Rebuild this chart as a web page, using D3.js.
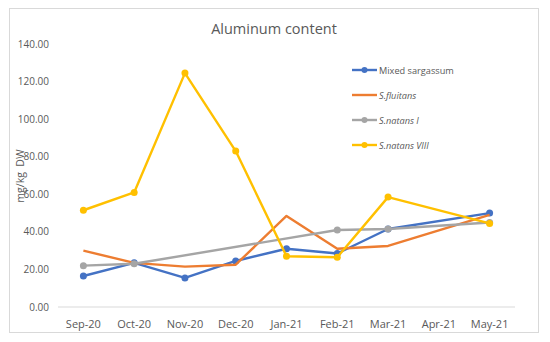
<!DOCTYPE html>
<html>
<head>
<meta charset="utf-8">
<script src="https://cdn.jsdelivr.net/npm/d3@7"></script>
<style>
  body { margin: 0; background: #fff; }
  text { font-family: "Open Sans", "Noto Sans", sans-serif; }
</style>
</head>
<body>
<svg id="chart" width="550" height="342"></svg>
<script>
const WIDTH = 550;
const HEIGHT = 342;

const months = ["Sep-20", "Oct-20", "Nov-20", "Dec-20", "Jan-21", "Feb-21", "Mar-21", "Apr-21", "May-21"];
const yTicks = [0, 20, 40, 60, 80, 100, 120, 140];

// null = no measurement, line connects over the gap
const mixedSargassum = [16.5, 23.5, 15.5, 24.5, 31, 28.5, 41.5, null, 50];
const sFluitans = [30, 23.5, 21.5, 22.5, 48.5, 31, 32.5, null, 49];
const sNatansI = [22, 23, null, null, null, 41, 41.5, null, 45];
const sNatansVIII = [51.5, 61, 124.5, 83, 27, 26.5, 58.5, null, 44.5];

const seriesNames = ["Mixed sargassum", "S.fluitans", "S.natans I", "S.natans VIII"];
const seriesValues = [mixedSargassum, sFluitans, sNatansI, sNatansVIII];
const seriesColors = ["#4472C4", "#ED7D31", "#A5A5A5", "#FFC000"];
const seriesMarkers = [true, false, true, true];
const seriesItalic = [false, true, true, true];

const svg = d3.select("#chart");

// outer chart border
svg.append("rect")
  .attr("x", 9.5).attr("y", 8.5)
  .attr("width", 529).attr("height", 324)
  .attr("fill", "#fff")
  .attr("stroke", "#d9d9d9");

const x = d3.scaleBand().domain(months).range([58, 515]);
const y = d3.scaleLinear().domain([0, 140]).range([307, 44]);

// x axis line
svg.append("line")
  .attr("x1", 58).attr("x2", 515)
  .attr("y1", y(0)).attr("y2", y(0))
  .attr("stroke", "#d9d9d9");

svg.append("g")
  .selectAll("text")
  .data(yTicks)
  .enter()
  .append("text")
  .attr("x", 49)
  .attr("y", (d) => y(d) + 3.5)
  .attr("text-anchor", "end")
  .attr("font-size", 10)
  .attr("fill", "#595959")
  .text((d) => d.toFixed(2));

svg.append("g")
  .selectAll("text")
  .data(months)
  .enter()
  .append("text")
  .attr("x", (d) => x(d) + x.bandwidth() / 2)
  .attr("y", 328)
  .attr("text-anchor", "middle")
  .attr("font-size", 11)
  .attr("fill", "#595959")
  .text((d) => d);

svg.append("text")
  .attr("x", 274)
  .attr("y", 34)
  .attr("text-anchor", "middle")
  .attr("font-size", 14.5)
  .attr("fill", "#595959")
  .text("Aluminum content");

svg.append("text")
  .attr("transform", "translate(24,176) rotate(-90)")
  .attr("text-anchor", "middle")
  .attr("font-size", 10.5)
  .attr("fill", "#595959")
  .attr("xml:space", "preserve")
  .text("mg/kg  DW");

const line = d3.line()
  .x((d) => x(d.m) + x.bandwidth() / 2)
  .y((d) => y(d.v));

seriesValues.forEach((vals, i) => {
  const pts = vals
    .map((v, j) => ({ m: months[j], v: v }))
    .filter((d) => d.v !== null);
  svg.append("path")
    .datum(pts)
    .attr("d", line)
    .attr("fill", "none")
    .attr("stroke", seriesColors[i])
    .attr("stroke-width", 2.4)
    .attr("stroke-linejoin", "round");
  if (seriesMarkers[i]) {
    svg.append("g")
      .selectAll("circle")
      .data(pts)
      .enter()
      .append("circle")
      .attr("cx", (d) => x(d.m) + x.bandwidth() / 2)
      .attr("cy", (d) => y(d.v))
      .attr("r", 3.5)
      .attr("fill", seriesColors[i]);
  }
});

const legend = svg.append("g")
  .selectAll("g")
  .data(seriesNames)
  .enter()
  .append("g")
  .attr("transform", (d, i) => "translate(352," + (70 + i * 25) + ")");

legend.append("line")
  .attr("x1", 0).attr("x2", 25)
  .attr("stroke", (d, i) => seriesColors[i])
  .attr("stroke-width", 2.4);

legend.filter((d, i) => seriesMarkers[i])
  .append("circle")
  .attr("cx", 12.5)
  .attr("r", 3)
  .attr("fill", (d) => seriesColors[seriesNames.indexOf(d)]);

legend.append("text")
  .attr("x", 27)
  .attr("y", 3.5)
  .attr("font-size", 9.2)
  .attr("fill", "#595959")
  .attr("font-style", (d, i) => seriesItalic[i] ? "italic" : "normal")
  .text((d) => d);
</script>
</body>
</html>
